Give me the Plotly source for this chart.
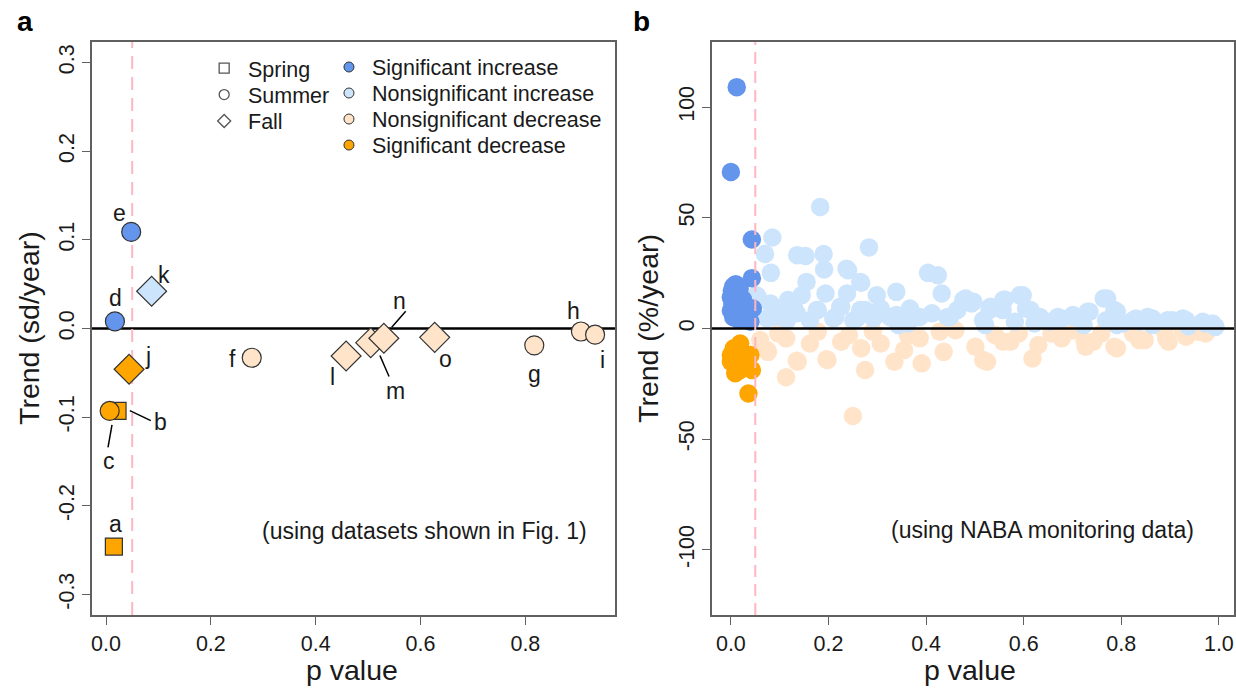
import plotly.graph_objects as go

# ---------------- Panel a data ----------------
a_labels = ["a", "b", "c", "d", "e", "f", "g", "h", "i", "j", "k", "l", "m", "n", "o"]
a_season = ["Spring", "Spring", "Summer", "Summer", "Summer", "Summer", "Summer", "Summer", "Summer",
            "Fall", "Fall", "Fall", "Fall", "Fall", "Fall"]
a_pval = [0.015, 0.022, 0.007, 0.017, 0.048, 0.278, 0.817, 0.906, 0.933,
          0.044, 0.087, 0.458, 0.505, 0.530, 0.627]
a_trend = [-0.246, -0.093, -0.093, 0.008, 0.109, -0.033, -0.019, -0.0034, -0.007,
           -0.046, 0.042, -0.031, -0.016, -0.011, -0.010]
a_class = ["sigdec", "sigdec", "sigdec", "siginc", "siginc", "nsdec", "nsdec", "nsdec", "nsdec",
           "sigdec", "nsinc", "nsdec", "nsdec", "nsdec", "nsdec"]

# label text positions (p, trend) for annotation letters
a_lab_x = [0.019, 0.1046, 0.0053, 0.019, 0.026, 0.242, 0.818, 0.891, 0.948, 0.081, 0.110, 0.432, 0.553, 0.559, 0.647]
a_lab_y = [-0.220, -0.1059, -0.149, 0.0342, 0.130, -0.0343, -0.0512, 0.0203, -0.036, -0.0305, 0.0599, -0.055, -0.070, 0.0305, -0.0343]

# leader lines (x0, y0, x1, y1) for labels b, c, m, n
a_leaders = {
    "b": (0.0455, -0.0927, 0.0855, -0.104),
    "c": (0.0114, -0.1088, 0.0038, -0.1341),
    "m": (0.5225, -0.0305, 0.540, -0.0542),
    "n": (0.545, 0.0015, 0.5717, 0.0195),
}

# ---------------- Panel b data ----------------
b_siginc_p = [0.012, 0.000, 0.043, 0.043, 0.005, 0.010, 0.002, 0.015, 0.000, 0.008, 0.003, 0.012, 0.000,
              0.020, 0.005, 0.015, 0.035, 0.040, 0.045, 0.030, 0.025, 0.030, 0.040, 0.010, 0.018, 0.022]
b_siginc_t = [109, 70.7, 40.2, 22.7, 19, 20, 17, 16, 14, 13, 11, 10, 8,
              7, 5, 4, 5, 8, 9, 10, 13, 4, 3, 6, 18, 11]

b_nsinc_p = [0.183, 0.085, 0.070, 0.082, 0.136, 0.153, 0.190, 0.191, 0.283, 0.155, 0.240, 0.267, 0.404,
             0.424, 0.432, 0.052, 0.055, 0.238, 0.299, 0.339, 0.194, 0.145, 0.117, 0.081, 0.481, 0.497,
             0.561, 0.598, 0.614, 0.771, 0.791, 0.735, 0.864, 0.905, 0.933, 0.973, 0.824, 0.678, 0.702,
             0.630, 0.557, 0.532, 0.464, 0.412, 0.367, 0.339, 0.275, 0.226, 0.178, 0.113, 0.089, 0.129,
             0.214, 0.258, 0.307, 0.387, 0.444, 0.517, 0.582, 0.654, 0.723, 0.791, 0.864, 0.937, 0.993,
             0.343, 0.521, 0.622, 0.363, 0.670, 0.775, 0.840, 0.094, 0.135, 0.176, 0.224, 0.265, 0.074,
             0.115, 0.162, 0.210, 0.251, 0.292, 0.476, 0.493, 0.530, 0.558, 0.592, 0.605, 0.633, 0.449,
             0.326, 0.764, 0.786, 0.731, 0.701, 0.674, 0.830, 0.854, 0.895, 0.926, 0.967, 0.987, 0.769,
             0.803, 0.237, 0.265]
b_nsinc_t = [54.9, 41.1, 33.6, 25.1, 33.1, 32.7, 33.6, 26.6, 36.6, 21.0, 26.3, 20.6, 25.1,
             24.0, 15.8, 15.0, 14.3, 15.8, 15.0, 16.5, 15.8, 15.0, 12.8, 11.3, 13.5, 12.0,
             13.1, 15.0, 8.3, 13.5, 7.5, 7.5, 4.5, 3.7, 3.7, 2.2, 3.7, 4.5, 5.2,
             4.5, 8.3, 9.8, 8.3, 6.8, 9.0, 6.0, 8.3, 9.8, 8.3, 6.8, 5.2, 9.8,
             5.2, 4.5, 9.0, 5.2, 5.2, 3.7, 3.0, 3.0, 1.5, 1.5, 1.5, 1.0, 0.7,
             1.5, 1.5, 2.2, 2.2, 5.2, 3.7, 3.0, 6.8, 6.8, 8.3, 9.8, 8.3, 4.5,
             3.7, 3.7, 4.5, 3.7, 4.5, 12.8, 11.3, 8.3, 12.8, 15.0, 9.0, 5.2, 5.2,
             5.2, 13.5, 8.3, 7.5, 6.0, 4.5, 4.5, 5.2, 3.7, 4.5, 3.0, 2.2, 3.7,
             2.2, 27.0, 21.0]

b_nsdec_p = [0.250, 0.113, 0.275, 0.137, 0.198, 0.335, 0.391, 0.525, 0.618, 0.791, 0.267, 0.226, 0.076,
             0.060, 0.113, 0.162, 0.307, 0.355, 0.436, 0.501, 0.573, 0.630, 0.678, 0.743, 0.848, 0.897,
             0.933, 0.973, 0.662, 0.702, 0.824, 0.428, 0.460, 0.291, 0.178, 0.541, 0.590, 0.759, 0.242,
             0.363, 0.387, 0.097, 0.727, 0.888, 0.937, 0.977, 0.558, 0.786, 0.725, 0.837, 0.892, 0.926,
             0.657, 0.698, 0.135, 0.196, 0.074, 0.517, 0.958]
b_nsdec_t = [-39.6, -22.1, -18.8, -15.1, -14.3, -15.1, -15.8, -15.1, -13.6, -9.0, -9.0, -6.0, -10.6,
             -5.3, -4.5, -6.8, -6.8, -9.8, -10.6, -8.3, -6.0, -7.5, -4.5, -6.0, -5.3, -6.0,
             -3.8, -2.3, -0.8, -0.8, -2.3, -1.5, -0.8, -1.5, -1.5, -3.0, -2.3, -2.3, -3.0,
             -3.0, -4.5, -2.3, -8.3, -0.8, -0.8, -0.8, -6.0, -8.3, -6.0, -5.3, -4.5, -0.8,
             -2.3, -0.8, -14.6, -14.0, -9.8, -14.3, -1.5]

b_sigdec_p = [0.006, 0.019, 0.000, 0.019, 0.043, 0.036, 0.025, 0.000, 0.009, 0.033, 0.012, 0.040]
b_sigdec_t = [-9.0, -6.8, -15.0, -18.8, -18.8, -29.4, -12.8, -12.0, -20.3, -15.8, -10.5, -12.0]

# ---------------- ticks ----------------
a_xticks = [0, 0.2, 0.4, 0.6, 0.8]
a_xtext = ["0.0", "0.2", "0.4", "0.6", "0.8"]
a_yticks = [-0.3, -0.2, -0.1, 0.0, 0.1, 0.2, 0.3]
a_ytext = ["-0.3", "-0.2", "-0.1", "0.0", "0.1", "0.2", "0.3"]
b_xticks = [0, 0.2, 0.4, 0.6, 0.8, 1.0]
b_xtext = ["0.0", "0.2", "0.4", "0.6", "0.8", "1.0"]
b_yticks = [-100, -50, 0, 50, 100]
b_ytext = ["-100", "-50", "0", "50", "100"]

season_order = ["Spring", "Summer", "Fall"]
class_order = ["siginc", "nsinc", "nsdec", "sigdec"]
class_names = {"siginc": "Significant increase", "nsinc": "Nonsignificant increase",
               "nsdec": "Nonsignificant decrease", "sigdec": "Significant decrease"}
class_colors = {"siginc": "#6495ED", "nsinc": "#CCE4FC", "nsdec": "#FFE4CA", "sigdec": "#FFA500"}
season_symbols = {"Spring": "square", "Summer": "circle", "Fall": "diamond"}
season_sizes = {"Spring": 17, "Summer": 19, "Fall": 23}

FONT = "Liberation Sans, Arial, sans-serif"
TXT = "#1a1a1a"
W, H = 1236, 690
T, B = 42, 615

def px_x(px):
    return px / W

def px_y(py):
    return (B - py) / (B - T)

fig = go.Figure()

# Panel a points
for season in season_order:
    idx = [i for i, s in enumerate(a_season) if s == season]
    fig.add_trace(go.Scatter(
        x=[a_pval[i] for i in idx], y=[a_trend[i] for i in idx],
        mode="markers", xaxis="x", yaxis="y", showlegend=False,
        marker=dict(symbol=season_symbols[season], size=season_sizes[season],
                    color=[class_colors[a_class[i]] for i in idx],
                    line=dict(color="#333333", width=1.2)),
        hoverinfo="skip"))

# Panel b points
for key, px_, py_ in [("nsdec", b_nsdec_p, b_nsdec_t), ("nsinc", b_nsinc_p, b_nsinc_t),
                      ("sigdec", b_sigdec_p, b_sigdec_t), ("siginc", b_siginc_p, b_siginc_t)]:
    fig.add_trace(go.Scatter(
        x=px_, y=py_, mode="markers", xaxis="x2", yaxis="y2", showlegend=False,
        marker=dict(symbol="circle", size=18.5, color=class_colors[key], line=dict(width=0)),
        hoverinfo="skip"))

# Legend symbols (text is drawn as annotations for exact spacing)
for season in season_order:
    fig.add_trace(go.Scatter(
        x=[None], y=[None], mode="markers", name=" ", legend="legend", xaxis="x", yaxis="y",
        marker=dict(symbol=season_symbols[season] + "-open", size=10, color="#555555",
                    line=dict(width=1.3))))
for key in class_order:
    fig.add_trace(go.Scatter(
        x=[None], y=[None], mode="markers", name=" ", legend="legend2", xaxis="x", yaxis="y",
        marker=dict(symbol="circle", size=10, color=class_colors[key],
                    line=dict(color="#333333", width=1))))

axis_common = dict(showline=True, mirror=True, linecolor="#606060", linewidth=1.5,
                   ticks="outside", ticklen=8, tickwidth=1.3, tickcolor="#606060",
                   showgrid=False, zeroline=False,
                   tickfont=dict(family=FONT, size=21.5, color=TXT))

fig.update_layout(
    width=W, height=H,
    margin=dict(l=0, r=0, t=T, b=H - B),
    paper_bgcolor="white", plot_bgcolor="white",
    font=dict(family=FONT, color=TXT),
    xaxis=dict(domain=[px_x(91), px_x(615)], range=[-0.027, 0.971], tickvals=a_xticks, ticktext=a_xtext,
               anchor="y", **axis_common),
    yaxis=dict(domain=[0, 1], range=[-0.3232, 0.3232], tickvals=a_yticks, ticktext=a_ytext,
               tickangle=-90, anchor="x", **axis_common),
    xaxis2=dict(domain=[px_x(712), px_x(1235)], range=[-0.039, 1.031], tickvals=b_xticks, ticktext=b_xtext,
                anchor="y2", **axis_common),
    yaxis2=dict(domain=[0, 1], range=[-129.5, 129.4], tickvals=b_yticks, ticktext=b_ytext,
                tickangle=-90, anchor="x2", **axis_common),
    legend=dict(x=px_x(203.5), y=px_y(50), xanchor="left", yanchor="top", bgcolor="rgba(0,0,0,0)",
                font=dict(family=FONT, size=18, color=TXT), itemclick=False, itemdoubleclick=False),
    legend2=dict(x=px_x(328.5), y=px_y(49), xanchor="left", yanchor="top", bgcolor="rgba(0,0,0,0)",
                 font=dict(family=FONT, size=17.7, color=TXT), itemclick=False, itemdoubleclick=False),
)

shapes = []
# panel a reference lines (below points)
shapes.append(dict(type="line", xref="x domain", yref="y", x0=0, x1=1, y0=0, y1=0,
                   line=dict(color="black", width=2.5), layer="below"))
shapes.append(dict(type="line", xref="x", yref="y domain", x0=0.05, x1=0.05, y0=0, y1=1,
                   line=dict(color="#FFB6C1", width=2, dash="13px,8px"), layer="below"))
# panel b reference lines (above points)
shapes.append(dict(type="line", xref="x2 domain", yref="y2", x0=0, x1=1, y0=0, y1=0,
                   line=dict(color="black", width=2.5), layer="above"))
shapes.append(dict(type="line", xref="x2", yref="y2 domain", x0=0.05, x1=0.05, y0=0, y1=1,
                   line=dict(color="#FFB6C1", width=2, dash="12px,7px"), layer="above"))
# leader lines
for k, (x0, y0, x1, y1) in a_leaders.items():
    shapes.append(dict(type="line", xref="x", yref="y", x0=x0, y0=y0, x1=x1, y1=y1,
                       line=dict(color="black", width=1.5)))
fig.update_layout(shapes=shapes)

ann = []
for lab, lx, ly in zip(a_labels, a_lab_x, a_lab_y):
    ann.append(dict(x=lx, y=ly, xref="x", yref="y", text=lab, showarrow=False,
                    xanchor="center", yanchor="middle",
                    font=dict(family=FONT, size=23, color=TXT)))
ann.append(dict(x=0.607, y=-0.228, xref="x", yref="y", text="(using datasets shown in Fig. 1)",
                showarrow=False, xanchor="center", yanchor="middle",
                font=dict(family=FONT, size=23, color=TXT)))
ann.append(dict(x=0.639, y=-91.1, xref="x2", yref="y2", text="(using NABA monitoring data)",
                showarrow=False, xanchor="center", yanchor="middle",
                font=dict(family=FONT, size=23, color=TXT)))

def paper_text(px, py, text, size, angle=0, xanchor="center", color=TXT):
    return dict(x=px_x(px), y=px_y(py), xref="paper", yref="paper", text=text, showarrow=False,
                xanchor=xanchor, yanchor="middle", textangle=angle,
                font=dict(family=FONT, size=size, color=color))

# legend texts
leg1_rows = [70, 96.5, 122]
for s, ry in zip(season_order, leg1_rows):
    ann.append(paper_text(245, ry, s, 21.5, xanchor="left"))
leg2_rows = [68.3, 94, 119.5, 146]
for k, ry in zip(class_order, leg2_rows):
    ann.append(paper_text(370, ry, class_names[k], 21.5, xanchor="left"))
# panel letters
ann.append(paper_text(24, 22, "<b>a</b>", 28, color="black"))
ann.append(paper_text(642, 22, "<b>b</b>", 28, color="black"))
# axis titles
ann.append(paper_text(352, 670, "p value", 28.5))
ann.append(paper_text(971, 670, "p value", 28.5))
ann.append(paper_text(28, 328, "Trend (sd/year)", 28.5, angle=-90))
ann.append(paper_text(648, 328, "Trend (%/year)", 28.5, angle=-90))
fig.update_layout(annotations=ann)

fig.write_html("out.html", config={"displayModeBar": False},
               post_script="document.body.style.margin='0px';")
